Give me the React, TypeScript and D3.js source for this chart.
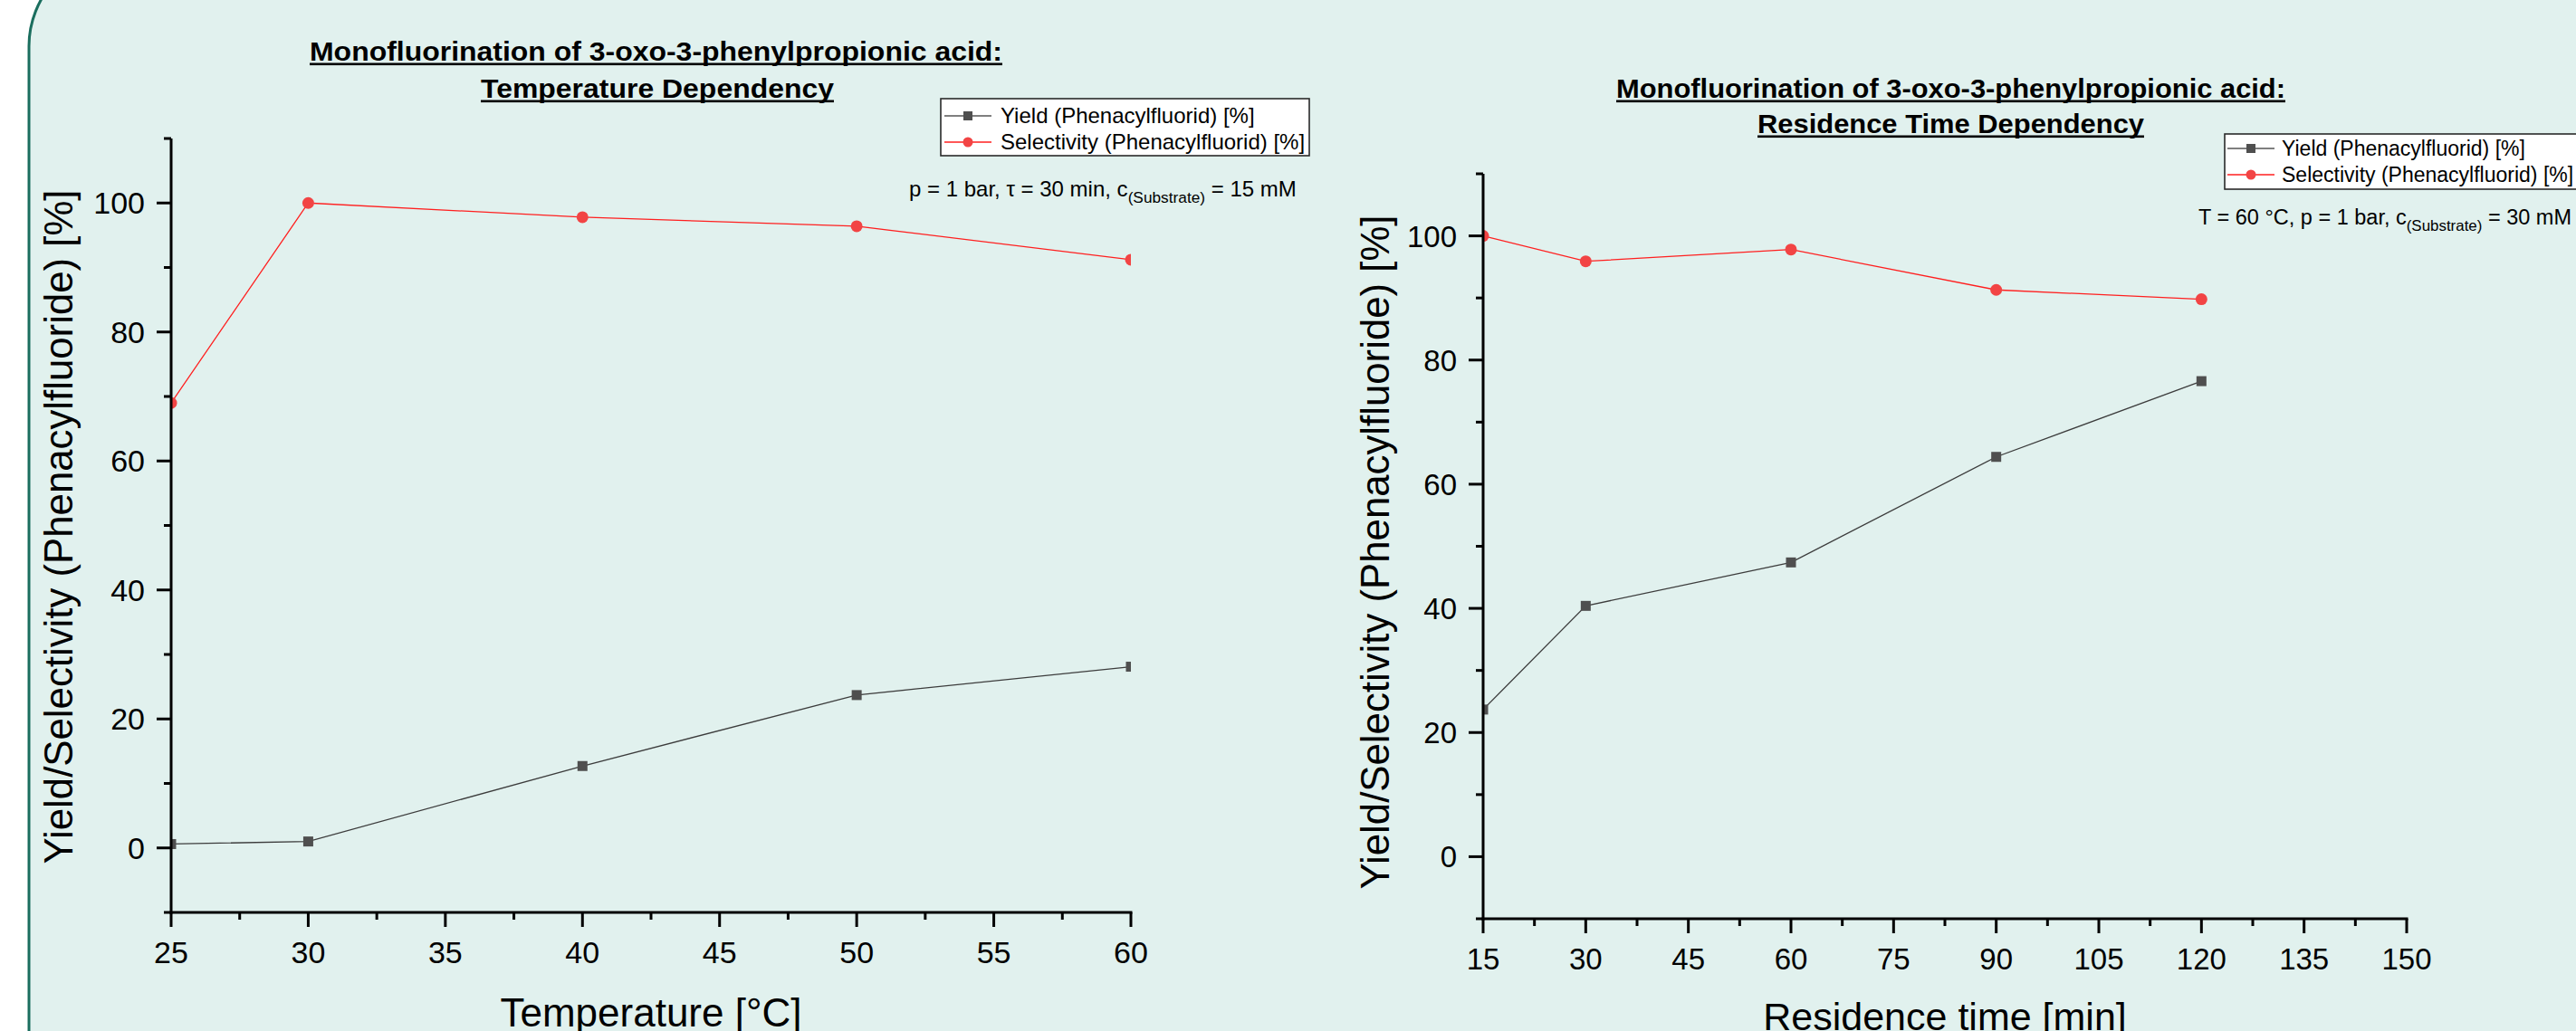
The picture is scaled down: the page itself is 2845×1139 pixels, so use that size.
import React from "react";
import * as d3 from "d3";

// ---------- data ----------
const tempX = [25, 30, 40, 50, 60];
const tempYield = [0.6, 1.0, 12.7, 23.7, 28.1];
const tempSel = [69.0, 100, 97.8, 96.4, 91.2];

const resX = [15, 30, 60, 90, 120];
const resYield = [23.7, 40.4, 47.4, 64.4, 76.6];
const resSel = [100, 95.9, 97.8, 91.3, 89.8];

const tempTicks = [25, 30, 35, 40, 45, 50, 55, 60];
const tempMinor = [27.5, 32.5, 37.5, 42.5, 47.5, 52.5, 57.5];
const resTicks = [15, 30, 45, 60, 75, 90, 105, 120, 135, 150];
const resMinor = [22.5, 37.5, 52.5, 67.5, 82.5, 97.5, 112.5, 127.5, 142.5];
const yTicks = [0, 20, 40, 60, 80, 100];
const yMinor = [-10, 10, 30, 50, 70, 90, 110];

const legendLabels = ["Yield (Phenacylfluorid) [%]", "Selectivity (Phenacylfluorid) [%]"];
const yTitle = "Yield/Selectivity (Phenacylfluoride) [%]";
const titleLine1 = "Monofluorination of 3-oxo-3-phenylpropionic acid:";

const FONT = "'Liberation Sans', Arial, Helvetica, sans-serif";
const RED = "#f24444";
const RED_LINE = "#ff1f1f";
const GRAY = "#4f4f4f";
const GRAY_LINE = "#3c3c3c";

type PanelProps = {
  id: string;
  xs: number[];
  yieldV: number[];
  selV: number[];
  xDomain: [number, number];
  xRange: [number, number];
  yRange: [number, number];
  ticks: number[];
  minor: number[];
  tickFont: number;
  xTitle: string;
  xTitleFont: number;
  xTitleY: number;
  yTitleX: number;
  yTitleY: number;
  title2: string;
  t1: { x: number; w: number; y: number };
  t2: { x: number; w: number; y: number };
  titleFont: number;
  legend: { x: number; y: number; w: number; h: number; y1: number; y2: number; lx: number; tx: number; font: number };
  note: { x: number; y: number; font: number; pre: string; post: string };
};

function Panel(p: PanelProps) {
  const x = d3.scaleLinear().domain(p.xDomain).range(p.xRange);
  const y = d3.scaleLinear().domain([-10, 110]).range(p.yRange);
  const [x0, x1] = p.xRange;
  const [y0, y1] = p.yRange;
  const line = d3
    .line<[number, number]>()
    .x((d) => x(d[0]))
    .y((d) => y(d[1]));
  const yieldPts = p.xs.map((v, i) => [v, p.yieldV[i]] as [number, number]);
  const selPts = p.xs.map((v, i) => [v, p.selV[i]] as [number, number]);
  const sq = 11;
  const r = 6.5;
  const L = p.legend;
  return (
    <g fontFamily={FONT}>
      <defs>
        <clipPath id={"clip-" + p.id}>
          <rect x={x0} y={y1} width={x1 - x0} height={y0 - y1} />
        </clipPath>
      </defs>
      {/* titles */}
      <g fontWeight="bold" fontSize={p.titleFont}>
        <text x={p.t1.x} y={p.t1.y} textLength={p.t1.w} lengthAdjust="spacingAndGlyphs">
          {titleLine1}
        </text>
        <rect x={p.t1.x} y={p.t1.y + 2.5} width={p.t1.w} height={2.6} fill="#000" />
        <text x={p.t2.x} y={p.t2.y} textLength={p.t2.w} lengthAdjust="spacingAndGlyphs">
          {p.title2}
        </text>
        <rect x={p.t2.x} y={p.t2.y + 2.5} width={p.t2.w} height={2.6} fill="#000" />
      </g>
      {/* data */}
      <g clipPath={`url(#clip-${p.id})`}>
        <path d={line(yieldPts) || ""} fill="none" stroke={GRAY_LINE} strokeWidth={1.3} />
        <path d={line(selPts) || ""} fill="none" stroke={RED_LINE} strokeWidth={1.3} />
        {yieldPts.map((d, i) => (
          <rect key={"s" + i} x={x(d[0]) - sq / 2} y={y(d[1]) - sq / 2} width={sq} height={sq} fill={GRAY} />
        ))}
        {selPts.map((d, i) => (
          <circle key={"c" + i} cx={x(d[0])} cy={y(d[1])} r={r} fill={RED} />
        ))}
      </g>
      {/* axes */}
      <g stroke="#000" strokeWidth={3}>
        <line x1={x0} x2={x0} y1={y1} y2={y0 + 1.5} />
        <line x1={x0 - 1.5} x2={x1 + 1.5} y1={y0} y2={y0} />
        {yTicks.map((t) => (
          <line key={"yt" + t} x1={x0 - 16} x2={x0} y1={y(t)} y2={y(t)} />
        ))}
        {yMinor.map((t) => (
          <line key={"ym" + t} x1={x0 - 8} x2={x0} y1={y(t)} y2={y(t)} />
        ))}
        {p.ticks.map((t) => (
          <line key={"xt" + t} x1={x(t)} x2={x(t)} y1={y0} y2={y0 + 16} />
        ))}
        {p.minor.map((t) => (
          <line key={"xm" + t} x1={x(t)} x2={x(t)} y1={y0} y2={y0 + 8} />
        ))}
      </g>
      <g fontSize={p.tickFont} fill="#000">
        {yTicks.map((t) => (
          <text key={"yl" + t} x={x0 - 29} y={y(t) + 12} textAnchor="end">
            {t}
          </text>
        ))}
        {p.ticks.map((t) => (
          <text key={"xl" + t} x={x(t)} y={y0 + 56} textAnchor="middle">
            {t}
          </text>
        ))}
      </g>
      <text x={(x0 + x1) / 2} y={p.xTitleY} fontSize={p.xTitleFont} textAnchor="middle">
        {p.xTitle}
      </text>
      <text
        transform={`translate(${p.yTitleX},${p.yTitleY}) rotate(-90)`}
        fontSize={44}
        textAnchor="middle"
        textLength={745}
        lengthAdjust="spacingAndGlyphs"
      >
        {yTitle}
      </text>
      {/* legend */}
      <rect x={L.x} y={L.y} width={L.w} height={L.h} fill="#fff" stroke="#2a2a2a" strokeWidth={1.6} />
      <line x1={L.lx} x2={L.lx + 52} y1={L.y1} y2={L.y1} stroke="#555" strokeWidth={1.3} />
      <rect x={L.lx + 26 - 5} y={L.y1 - 5} width={10} height={10} fill={GRAY} />
      <line x1={L.lx} x2={L.lx + 52} y1={L.y2} y2={L.y2} stroke={RED_LINE} strokeWidth={1.3} />
      <circle cx={L.lx + 26} cy={L.y2} r={5.5} fill={RED} />
      <text x={L.tx} y={L.y1 + 8} fontSize={L.font}>
        {legendLabels[0]}
      </text>
      <text x={L.tx} y={L.y2 + 8} fontSize={L.font}>
        {legendLabels[1]}
      </text>
      {/* note */}
      <text x={p.note.x} y={p.note.y} fontSize={p.note.font}>
        {p.note.pre}
        <tspan fontSize={p.note.font * 0.72} dy={7}>
          (Substrate)
        </tspan>
        <tspan dy={-7}>{p.note.post}</tspan>
      </text>
    </g>
  );
}

export default function App() {
  return (
    <svg
      width={2845}
      height={1139}
      viewBox="0 0 2845 1139"
      style={{ position: "absolute", left: 0, top: 0, display: "block" }}
    >
      <rect x={0} y={0} width={2845} height={1139} fill="#ffffff" />
      <rect x={32} y={-54} width={3000} height={1400} rx={105} ry={105} fill="#e1f1ee" stroke="#1a6e5e" strokeWidth={3} />
      <Panel
        id="temp"
        xs={tempX}
        yieldV={tempYield}
        selV={tempSel}
        xDomain={[25, 60]}
        xRange={[189, 1249]}
        yRange={[1008, 153]}
        ticks={tempTicks}
        minor={tempMinor}
        tickFont={34}
        xTitle="Temperature [°C]"
        xTitleFont={44}
        xTitleY={1134}
        yTitleX={80}
        yTitleY={582}
        title2="Temperature Dependency"
        t1={{ x: 342, w: 765, y: 67 }}
        t2={{ x: 531, w: 390, y: 108 }}
        titleFont={30}
        legend={{ x: 1039, y: 109, w: 407, h: 63, y1: 128, y2: 157, lx: 1043, tx: 1105, font: 24 }}
        note={{ x: 1004, y: 217, font: 24, pre: "p = 1 bar, τ = 30 min, c", post: " = 15 mM" }}
      />
      <Panel
        id="res"
        xs={resX}
        yieldV={resYield}
        selV={resSel}
        xDomain={[15, 150]}
        xRange={[1638, 2658]}
        yRange={[1015, 192]}
        ticks={resTicks}
        minor={resMinor}
        tickFont={33}
        xTitle="Residence time [min]"
        xTitleFont={43}
        xTitleY={1138}
        yTitleX={1534}
        yTitleY={610}
        title2="Residence Time Dependency"
        t1={{ x: 1785, w: 739, y: 108 }}
        t2={{ x: 1941, w: 427, y: 147 }}
        titleFont={29}
        legend={{ x: 2457, y: 148, w: 420, h: 61, y1: 164, y2: 193, lx: 2460, tx: 2520, font: 23 }}
        note={{ x: 2428, y: 248, font: 23.5, pre: "T = 60 °C, p = 1 bar, c", post: " = 30 mM" }}
      />
    </svg>
  );
}
